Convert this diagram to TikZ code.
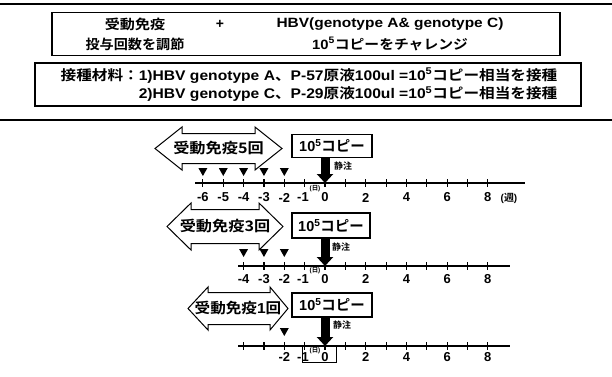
\documentclass[tikz,border=0pt]{standalone}
\usepackage{fontspec}
\setmainfont{Liberation Sans}
\newfontfamily\cjk{Noto Sans CJK JP}[BoldFont={Noto Sans CJK JP Bold}]
\usetikzlibrary{arrows.meta}
\newcommand\jp[1]{{\cjk\bfseries #1}}
\newcommand\hstr[2]{\scalebox{#1}[1]{#2}}
\newcommand\fsz[1]{\fontsize{#1}{#1}\selectfont\bfseries}
\newcommand\dblarr[7]{%
  \draw[shp] (#1,#5) -- (#2,#5-#6) -- (#2,#5-#7) -- (#3,#5-#7) -- (#3,#5-#6) -- (#4,#5)
   -- (#3,#5+#6) -- (#3,#5+#7) -- (#2,#5+#7) -- (#2,#5+#6) -- cycle;}
\newcommand\mytri[3]{\fill (#2-4.5,#3-4) -- (#2+4.5,#3-4) -- (#2,#3+4) -- cycle;}
\begin{document}
\begin{tikzpicture}[x=1bp,y=-1bp,
  box/.style={draw, line width=1.1bp, inner sep=0pt},
  axisline/.style={line width=1.6bp},
  tickmark/.style={line width=1.1bp},
  tlabel/.style={font=\fsz{13}, inner sep=0pt},
  shp/.style={draw, line width=1bp, line join=miter},
  inj/.style={line width=9bp, -{Triangle[width=16bp,length=9bp]}},
  txt/.style={inner sep=0pt},
]
\useasboundingbox (0,0) rectangle (612,376);

% rules
\coordinate (r1a) at (0,4); \coordinate (r1b) at (612,4);
\draw[line width=2bp] (r1a) -- (r1b);
\coordinate (r2a) at (0,120); \coordinate (r2b) at (612,120);
\draw[line width=2.4bp] (r2a) -- (r2b);

% box 1
\node[box, minimum width=508bp, minimum height=43bp] (b1) at (306,34) {};
\node[txt, font=\fsz{13.5}] (t11) at (135,24) {\hstr{1.12}{\jp{受動免疫}}};
\node[txt, font=\fsz{14}] (tplus) at (220,24) {+};
\node[txt, font=\fsz{13.5}] (t12) at (390,24) {\hstr{1.15}{HBV(genotype A\& genotype C)}};
\node[txt, font=\fsz{13.5}] (t21) at (135,44) {\hstr{1.05}{\jp{投与回数を調節}}};
\node[txt, font=\fsz{13.5}] (t22) at (390,44) {\hstr{1.1}{10\textsuperscript{5}\jp{コピーをチャレンジ}}};

% box 2
\node[box, minimum width=546bp, minimum height=43bp] (b2) at (308,84.5) {};
\node[txt, font=\fsz{14}, align=left] (t3) at (309,85) {%
  \hstr{1.12}{\jp{接種材料：}1)HBV genotype A\jp{、}P-57\jp{原液}100ul =10\textsuperscript{5}\jp{コピー相当を接種}}\\[3bp]
  \hstr{1.12}{\phantom{\jp{接種材料：}}2)HBV genotype C\jp{、}P-29\jp{原液}100ul =10\textsuperscript{5}\jp{コピー相当を接種}}};

% ---------- timeline 1 ----------
\dblarr{155}{182}{255}{282}{148.5}{21.5}{15}
\node[txt, font=\fsz{14.5}] (s1) at (218.5,148.5) {\hstr{1.12}{\jp{受動免疫5回}}};
\node[box, minimum width=80bp, minimum height=23bp] (c1) at (332,146) {};
\node[txt, font=\fsz{14.5}] (c1t) at (332,146) {10\textsuperscript{5}\jp{コピー}};
\coordinate (a1s) at (195,183); \coordinate (a1e) at (525,183);
\draw[axisline] (a1s) -- (a1e);
\foreach \i in {-6,...,8} \draw[tickmark] (325+\i*20.35,179) -- (325+\i*20.35,187);
\coordinate (z1) at (325,183);
\draw[inj] (c1.south -| z1) -- (z1);
\node[txt, font=\fsz{9}] (j1) at (343,166) {\jp{静注}};
\foreach \i in {-6,...,-2} {\mytri{t}{325+\i*20.35}{172}}
\foreach \i in {-6,...,-2} \node[tlabel] (l1\i) at (325+\i*20.35,197.5) {-\the\numexpr-\i\relax};
\node[tlabel] (l1m1) at (303,197.5) {-1};
\node[tlabel] (l10) at (325,197.5) {0};
\foreach \i in {2,4,6,8} \node[tlabel] (l1p\i) at (325+\i*20.35,197.5) {\i};
\node[txt, font=\fsz{6.5}] (d1) at (315,188.5) {(\jp{日})};
\node[txt, font=\fsz{10}] (w1) at (509,198) {(\jp{週})};

% ---------- timeline 2 ----------
\dblarr{167}{191}{259}{283}{226.5}{23.5}{17}
\node[txt, font=\fsz{14.5}] (s2) at (225,226.5) {\hstr{1.12}{\jp{受動免疫3回}}};
\node[box, minimum width=78bp, minimum height=25bp] (c2) at (331,225.5) {};
\node[txt, font=\fsz{14.5}] (c2t) at (331,225.5) {10\textsuperscript{5}\jp{コピー}};
\coordinate (a2s) at (238,266); \coordinate (a2e) at (510,266);
\draw[axisline] (a2s) -- (a2e);
\foreach \i in {-4,...,8} \draw[tickmark] (325+\i*20.35,262) -- (325+\i*20.35,270);
\coordinate (z2) at (325,266);
\draw[inj] (c2.south -| z2) -- (z2);
\node[txt, font=\fsz{9}] (j2) at (341,247) {\jp{静注}};
\foreach \i in {-4,...,-2} {\mytri{t}{325+\i*20.35}{253}}
\foreach \i in {-4,...,-2} \node[tlabel] (l2\i) at (325+\i*20.35,279) {-\the\numexpr-\i\relax};
\node[tlabel] (l2m1) at (303,279) {-1};
\node[tlabel] (l20) at (325,279) {0};
\foreach \i in {2,4,6,8} \node[tlabel] (l2p\i) at (325+\i*20.35,279) {\i};
\node[txt, font=\fsz{6.5}] (d2) at (315,271) {(\jp{日})};

% ---------- timeline 3 ----------
\dblarr{188}{208}{270}{288}{308.5}{21.5}{16}
\node[txt, font=\fsz{14.5}] (s3) at (238,308.5) {\hstr{1.08}{\jp{受動免疫}1\jp{回}}};
\node[box, minimum width=80bp, minimum height=24bp] (c3) at (332,305) {};
\node[txt, font=\fsz{14.5}] (c3t) at (332,305) {10\textsuperscript{5}\jp{コピー}};
\coordinate (a3s) at (238,346); \coordinate (a3e) at (510,346);
\draw[axisline] (a3s) -- (a3e);
\foreach \i in {-4,...,8} \draw[tickmark] (325+\i*20.35,342) -- (325+\i*20.35,350);
\coordinate (z3) at (325,346);
\draw[inj] (c3.south -| z3) -- (z3);
\node[txt, font=\fsz{9}] (j3) at (342,325) {\jp{静注}};
\mytri{t}{284.3}{332}
\node[tlabel] (l3m2) at (284.3,357) {-2};
\node[tlabel] (l3m1) at (303,357) {-1};
\node[tlabel] (l30) at (325,357) {0};
\foreach \i in {2,4,6,8} \node[tlabel] (l3p\i) at (325+\i*20.35,357) {\i};
\node[txt, font=\fsz{6.5}] (d3) at (315,350.5) {(\jp{日})};
\node[draw, line width=0.9bp, minimum width=34bp, minimum height=16bp, inner sep=0pt] (rb) at (319,354) {};
\end{tikzpicture}
\end{document}
